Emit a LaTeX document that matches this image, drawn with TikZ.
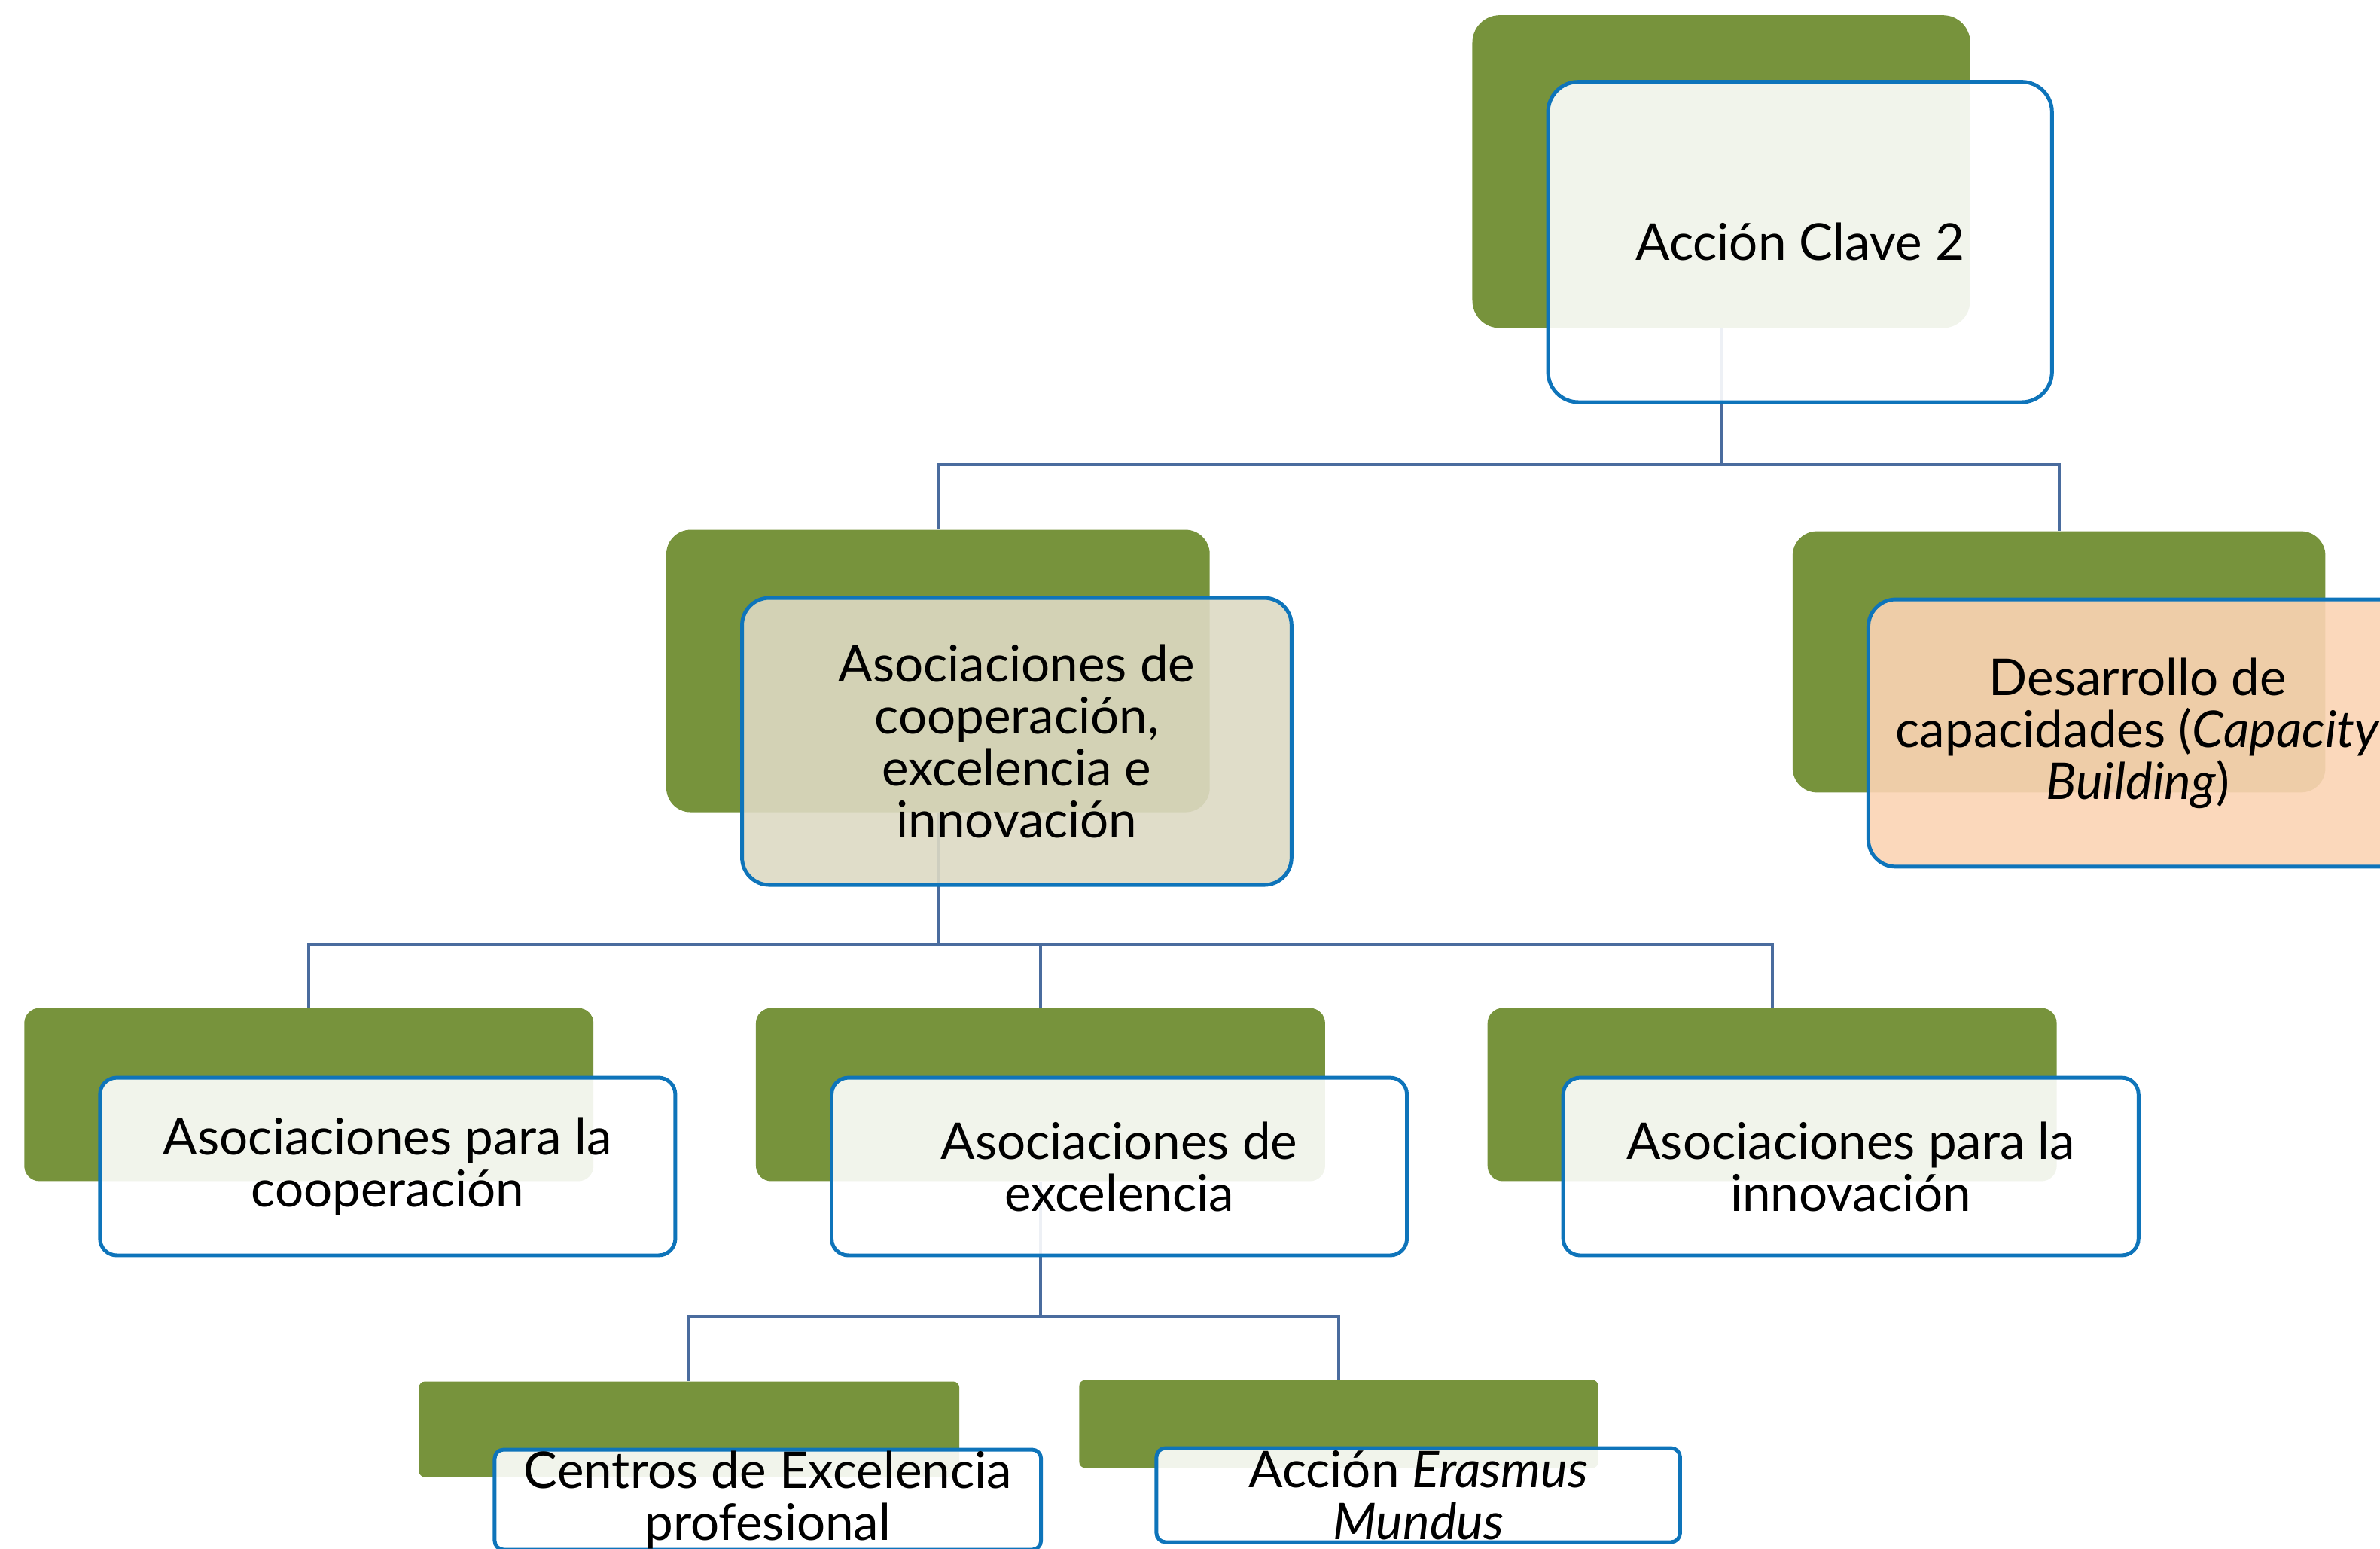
\documentclass[tikz,border=0pt]{standalone}
\usepackage{fontspec}
\setmainfont{Lato}
\usetikzlibrary{positioning}
\definecolor{kagreen}{HTML}{77933C}
\definecolor{kablue}{HTML}{0E74BA}
\definecolor{kaline}{HTML}{4A6C9E}
\definecolor{katan}{HTML}{DDD9C3}
\definecolor{kapeach}{HTML}{FBD4B4}

\begin{document}
\begin{tikzpicture}[
  back/.style={fill=kagreen, inner sep=0pt, rounded corners=#1},
  back/.default=0.2cm,
  front/.style={draw=kablue, line width=1.4pt, fill=white, fill opacity=0.9, text opacity=1,
    align=center, inner sep=0pt, rounded corners=#1,
    font=\fontsize{19}{19.5}\selectfont},
  front/.default=0.22cm,
  link/.style={draw=kaline, line width=1.2pt}
]
\useasboundingbox (0,0) rectangle (31.36,-20.4);

\coordinate (bus1) at (0,-6.12);
\coordinate (bus2) at (0,-12.44);
\coordinate (bus3) at (0,-17.34);

% green back shapes
\node[back=0.36cm, minimum width=6.56cm, minimum height=4.12cm] (kaG) at (22.68,-2.26) {};
\node[back=0.32cm, minimum width=7.16cm, minimum height=3.72cm] (coopG) at (12.36,-8.84) {};
\node[back=0.32cm, minimum width=7.02cm, minimum height=3.44cm] (capG) at (27.13,-8.72) {};
\node[back, minimum width=7.5cm, minimum height=2.28cm] (paracoopG) at (4.07,-14.42) {};
\node[back, minimum width=7.5cm, minimum height=2.28cm] (excG) at (13.71,-14.42) {};
\node[back, minimum width=7.5cm, minimum height=2.28cm] (innovG) at (23.35,-14.42) {};
\node[back=0.08cm, minimum width=7.12cm, minimum height=1.26cm] (centrosG) at (9.08,-18.83) {};
\node[back=0.08cm, minimum width=6.84cm, minimum height=1.16cm] (erasmusG) at (17.64,-18.76) {};

% connectors
\draw[link] (kaG.south) -- (kaG.south |- bus1) -| (coopG.north);
\draw[link] (kaG.south |- bus1) -| (capG.north);
\draw[link] (coopG.south) -- (coopG.south |- bus2) -| (paracoopG.north);
\draw[link] (coopG.south |- bus2) -| (excG.north);
\draw[link] (coopG.south |- bus2) -| (innovG.north);
\draw[link] (excG.south) -- (excG.south |- bus3) -| (centrosG.north);
\draw[link] (excG.south |- bus3) -| (erasmusG.north);

% front boxes
\node[front=0.4cm, minimum width=6.64cm, minimum height=4.22cm,
  below right=0.86cm and 0.98cm of kaG.north west] (kaF) {Acción Clave 2};
\node[front=0.36cm, fill=katan, minimum width=7.24cm, minimum height=3.78cm,
  below right=0.88cm and 0.98cm of coopG.north west] (coopF)
  {Asociaciones de\\cooperación,\\excelencia e\\innovación};
\node[front=0.36cm, fill=kapeach, minimum width=7.1cm, minimum height=3.52cm,
  below right=0.88cm and 0.98cm of capG.north west] (capF)
  {Desarrollo de\\capacidades (\textit{Capacity}\\\textit{Building})};
\node[front, minimum width=7.58cm, minimum height=2.34cm,
  below right=0.9cm and 0.98cm of paracoopG.north west] (paracoopF)
  {Asociaciones para la\\cooperación};
\node[front, minimum width=7.58cm, minimum height=2.34cm,
  below right=0.9cm and 0.98cm of excG.north west] (excF)
  {Asociaciones de\\excelencia};
\node[front, minimum width=7.58cm, minimum height=2.34cm,
  below right=0.9cm and 0.98cm of innovG.north west] (innovF)
  {Asociaciones para la\\innovación};
\node[front=0.12cm, minimum width=7.2cm, minimum height=1.32cm,
  below right=0.88cm and 0.98cm of centrosG.north west] (centrosF)
  {Centros de Excelencia\\profesional};
\node[front=0.12cm, minimum width=6.9cm, minimum height=1.24cm,
  below right=0.88cm and 1.0cm of erasmusG.north west] (erasmusF)
  {Acción \textit{Erasmus}\\\textit{Mundus}};
\end{tikzpicture}
\end{document}
